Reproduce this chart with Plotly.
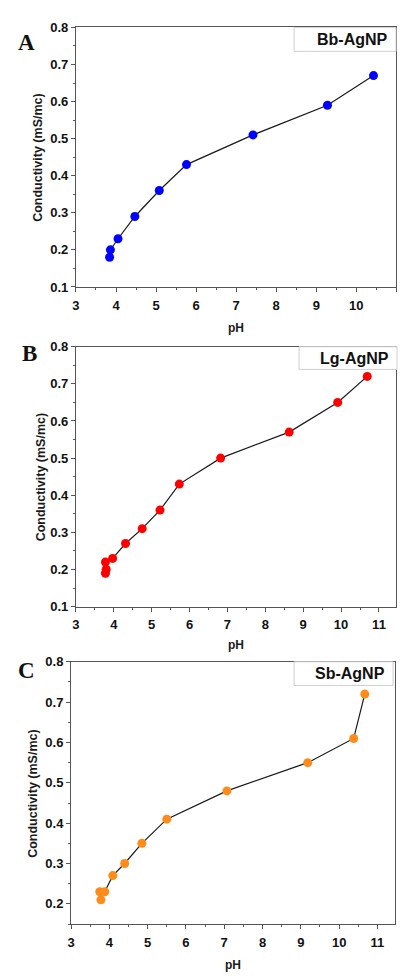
import plotly.graph_objects as go

# Conductivity vs pH for three silver-nanoparticle preparations
ph_bb = [3.84, 3.86, 4.05, 4.47, 5.08, 5.76, 7.42, 9.28, 10.43]
cond_bb = [0.18, 0.20, 0.23, 0.29, 0.36, 0.43, 0.51, 0.59, 0.67]

ph_lg = [3.78, 3.80, 3.78, 3.97, 4.31, 4.75, 5.22, 5.73, 6.82, 8.63, 9.91, 10.69]
cond_lg = [0.19, 0.20, 0.22, 0.23, 0.27, 0.31, 0.36, 0.43, 0.50, 0.57, 0.65, 0.72]

ph_sb = [3.78, 3.75, 3.88, 4.09, 4.40, 4.85, 5.50, 7.07, 9.18, 10.38, 10.67]
cond_sb = [0.21, 0.23, 0.23, 0.27, 0.30, 0.35, 0.41, 0.48, 0.55, 0.61, 0.72]

panel_letters = ["A", "B", "C"]
sample_names = ["Bb-AgNP", "Lg-AgNP", "Sb-AgNP"]
marker_colors = ["#0000ff", "#ff0000", "#ff8c1a"]
x_label = "pH"
y_label = "Conductivity (mS/mc)"

W, H = 400, 979


def px(x):
    return x / W


def py(y):
    return 1 - y / H


# panel geometry in pixels: (left, right, top, bottom)
panels = [
    (72.7, 396.3, 20.7, 284.3),
    (72.6, 396.0, 345.0, 609.0),
    (67.7, 395.0, 665.0, 931.7),
]
x_ranges = [[3, 11], [3, 11.45], [3, 11.46]]
y_ranges = [[0.1, 0.8], [0.1, 0.8], [0.149, 0.8]]
legend_boxes = [
    (293, 396, 21, 45),
    (298, 397, 345, 368),
    (293, 393, 665, 689),
]
letter_pos = [(23, 36), (26, 352), (23, 674)]
ytitle_x = [35, 37, 29]
xtitle_y = [326, 648, 973]

series = [(ph_bb, cond_bb), (ph_lg, cond_lg), (ph_sb, cond_sb)]

fig = go.Figure()
axis_font = dict(family="Liberation Sans, Arial", size=13, color="#111111", weight=700)

annotations = []
shapes = []
for i, ((xs, ys), color) in enumerate(zip(series, marker_colors)):
    n = "" if i == 0 else str(i + 1)
    fig.add_trace(go.Scatter(
        x=xs, y=ys, mode="lines+markers",
        line=dict(color="#1a1a1a", width=1.2),
        marker=dict(color=color, size=9, line=dict(width=0)),
        xaxis="x" + n, yaxis="y" + n, showlegend=False,
    ))
    l, r, t, b = panels[i]
    common = dict(
        showline=True, linecolor="#555555", linewidth=1, mirror=True,
        ticks="outside", ticklen=4, tickwidth=1, tickcolor="#555555",
        showgrid=False, zeroline=False, tickfont=axis_font,
    )
    fig.update_layout(**{
        "xaxis" + n: dict(
            domain=[px(l), px(r)], range=x_ranges[i], dtick=1, tick0=3,
            anchor="y" + n, ticklabelstandoff=2,
            minor=dict(dtick=0.5, ticks="outside", ticklen=2, tickcolor="#555555"),
            **common,
        ),
        "yaxis" + n: dict(
            domain=[py(b), py(t)], range=y_ranges[i], dtick=0.1, tick0=0.1,
            tickformat=".1f", anchor="x" + n,
            minor=dict(dtick=0.05, ticks="outside", ticklen=2, tickcolor="#555555"),
            **common,
        ),
    })
    # sample label box
    bl, br, bt, bb = legend_boxes[i]
    shapes.append(dict(
        type="rect", xref="paper", yref="paper",
        x0=px(bl), x1=px(br), y0=py(bb), y1=py(bt),
        line=dict(color="#cfcfcf", width=1), fillcolor="rgba(255,255,255,1)",
        layer="above",
    ))
    annotations.append(dict(
        text=sample_names[i], xref="paper", yref="paper",
        x=px(br - 6), y=py((bt + bb) / 2), xanchor="right", yanchor="middle",
        showarrow=False,
        font=dict(family="Liberation Sans, Arial", size=16, color="#111111", weight=700),
    ))
    # panel letter
    lx, ly = letter_pos[i]
    annotations.append(dict(
        text=panel_letters[i], xref="paper", yref="paper",
        x=px(lx), y=py(ly), xanchor="center", yanchor="middle", showarrow=False,
        font=dict(family="Liberation Serif, Times New Roman", size=23, color="#111111", weight=700),
    ))
    # axis titles
    annotations.append(dict(
        text=y_label, xref="paper", yref="paper",
        x=px(ytitle_x[i]), y=py((t + b) / 2), xanchor="center", yanchor="middle",
        textangle=-90, showarrow=False,
        font=dict(family="Liberation Sans, Arial", size=12.5, color="#1a1a1a", weight=700),
    ))
    annotations.append(dict(
        text=x_label, xref="paper", yref="paper",
        x=px((l + r) / 2), y=py(xtitle_y[i]), xanchor="center", yanchor="middle",
        showarrow=False,
        font=dict(family="Liberation Sans, Arial", size=12, color="#1a1a1a", weight=700),
    ))

fig.update_layout(
    width=W, height=H,
    margin=dict(l=0, r=0, t=0, b=0),
    paper_bgcolor="white", plot_bgcolor="white",
    annotations=annotations, shapes=shapes,
)

fig.write_html("out.html")
